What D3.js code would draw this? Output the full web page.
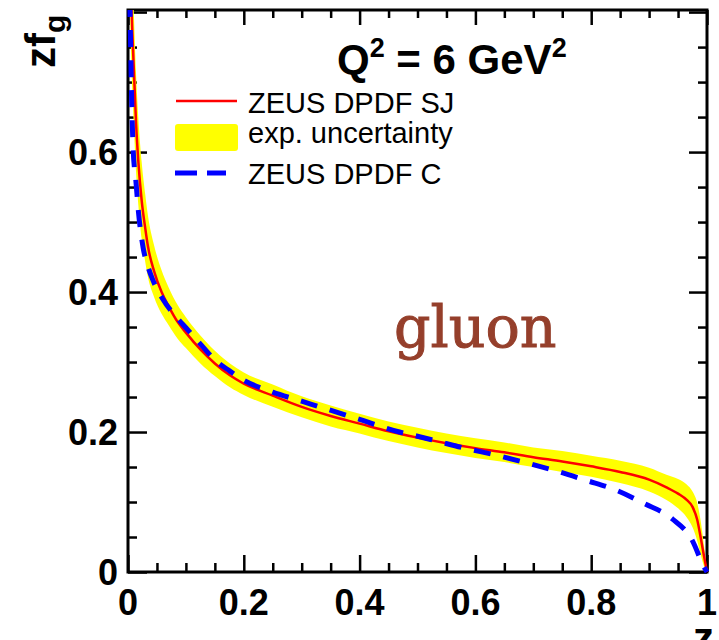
<!DOCTYPE html>
<html>
<head>
<meta charset="utf-8">
<script src="https://cdn.jsdelivr.net/npm/d3@7"></script>
<style>
  html, body { margin: 0; padding: 0; background: #fff; }
  svg { display: block; }
</style>
</head>
<body>
<svg id="chart" width="719" height="640"></svg>
<script>
// Gluon momentum distribution z·f_g(z) at Q² = 6 GeV²

// SJ fit: z grid, central value and experimental uncertainty band
const zSJ = [0.004, 0.006, 0.01, 0.014, 0.018, 0.0236, 0.03, 0.0345, 0.045, 0.058, 0.07, 0.086, 0.1, 0.125, 0.15, 0.176,
  0.2, 0.25, 0.3, 0.35, 0.4, 0.45, 0.5, 0.55, 0.6, 0.65, 0.7, 0.75, 0.8, 0.85, 0.9, 0.93, 0.95,
  0.965, 0.975, 0.983, 0.99, 0.995, 1.0];
const fitSJ = [0.88, 0.81, 0.72, 0.64, 0.585, 0.531, 0.49, 0.465, 0.43, 0.40, 0.38, 0.357, 0.342, 0.318, 0.298, 0.281,
  0.269, 0.252, 0.236, 0.223, 0.212, 0.201, 0.192, 0.184, 0.177, 0.171, 0.164, 0.158, 0.151, 0.143, 0.132, 0.121, 0.112,
  0.103, 0.093, 0.075, 0.045, 0.022, 0.0];
const lowSJ = [0.78, 0.72, 0.64, 0.57, 0.523, 0.476, 0.442, 0.421, 0.393, 0.369, 0.353, 0.333, 0.320, 0.298, 0.280, 0.264,
  0.253, 0.236, 0.221, 0.208, 0.198, 0.187, 0.178, 0.170, 0.163, 0.157, 0.150, 0.143, 0.136, 0.127, 0.115, 0.103, 0.091,
  0.078, 0.064, 0.045, 0.022, 0.008, 0.0];
const highSJ = [0.98, 0.90, 0.80, 0.71, 0.647, 0.586, 0.538, 0.509, 0.467, 0.431, 0.407, 0.381, 0.364, 0.338, 0.316, 0.298,
  0.285, 0.268, 0.251, 0.238, 0.226, 0.215, 0.206, 0.198, 0.191, 0.185, 0.178, 0.173, 0.166, 0.159, 0.149, 0.139, 0.133,
  0.125, 0.115, 0.099, 0.068, 0.036, 0.0];

// C fit: z grid and central value
const zC = [0.002, 0.0034, 0.0064, 0.0086, 0.014, 0.018, 0.026, 0.035, 0.043, 0.06, 0.086, 0.1, 0.129, 0.15,
  0.176, 0.2, 0.25, 0.3, 0.331, 0.4, 0.469, 0.5, 0.529, 0.581, 0.636, 0.688, 0.741, 0.791, 0.843,
  0.891, 0.94, 0.974, 0.995, 1.0];
const fitC = [0.86, 0.803, 0.674, 0.61, 0.555, 0.515, 0.464, 0.435, 0.417, 0.39, 0.362, 0.349, 0.322, 0.303,
  0.287, 0.274, 0.257, 0.244, 0.236, 0.218, 0.2, 0.194, 0.188, 0.177, 0.167, 0.156, 0.144, 0.131, 0.117,
  0.098, 0.076, 0.046, 0.007, 0.0];

const xTickValues = [0, 0.2, 0.4, 0.6, 0.8, 1];
const xTickLabels = ["0", "0.2", "0.4", "0.6", "0.8", "1"];
const yTickValues = [0, 0.2, 0.4, 0.6];
const yTickLabels = ["0", "0.2", "0.4", "0.6"];
const legendLabels = ["ZEUS DPDF SJ", "exp. uncertainty", "ZEUS DPDF C"];
const titleText = { main: "Q", sup1: "2", mid: " = 6 GeV", sup2: "2" };
const partonLabel = "gluon";

const frame = { left: 128, right: 707, top: 10, bottom: 572 };
const svg = d3.select("#chart");

const x = d3.scaleLinear().domain([0, 1]).range([frame.left, frame.right]);
const y = d3.scaleLinear().domain([0, 0.803]).range([frame.bottom, frame.top]);

const bold = "'Liberation Sans', Arial, Helvetica, sans-serif";

// clip region for the curves
svg.append("defs").append("clipPath").attr("id", "plotClip")
  .append("rect")
  .attr("x", frame.left - 8).attr("y", frame.top)
  .attr("width", frame.right - frame.left + 16).attr("height", frame.bottom - frame.top + 8);

// frame with inward ticks on all four sides
const axisG = svg.append("g");
const minorX = d3.range(0, 1.0001, 0.05);
const minorY = d3.range(0, 0.8001, 0.05);
function isMajor(v) { return Math.abs(v / 0.2 - Math.round(v / 0.2)) < 1e-6; }

axisG.append("g").attr("transform", `translate(0,${frame.bottom})`)
  .call(d3.axisBottom(x).tickValues(minorX).tickSize(0).tickFormat(""))
  .call(g => g.select(".domain").remove())
  .call(g => g.selectAll(".tick line").attr("y2", d => isMajor(d) ? -17 : -9));
axisG.append("g").attr("transform", `translate(0,${frame.top})`)
  .call(d3.axisTop(x).tickValues(minorX).tickSize(0).tickFormat(""))
  .call(g => g.select(".domain").remove())
  .call(g => g.selectAll(".tick line").attr("y2", d => isMajor(d) ? 15 : 8));
axisG.append("g").attr("transform", `translate(${frame.left},0)`)
  .call(d3.axisLeft(y).tickValues(minorY).tickSize(0).tickFormat(""))
  .call(g => g.select(".domain").remove())
  .call(g => g.selectAll(".tick line").attr("x2", d => isMajor(d) ? 19 : 9));
axisG.append("g").attr("transform", `translate(${frame.right},0)`)
  .call(d3.axisRight(y).tickValues(minorY).tickSize(0).tickFormat(""))
  .call(g => g.select(".domain").remove())
  .call(g => g.selectAll(".tick line").attr("x2", d => isMajor(d) ? -18 : -9));
axisG.selectAll(".tick line").attr("stroke", "#000").attr("stroke-width", 2.5);

axisG.append("rect")
  .attr("x", frame.left).attr("y", frame.top)
  .attr("width", frame.right - frame.left).attr("height", frame.bottom - frame.top)
  .attr("fill", "none").attr("stroke", "#000").attr("stroke-width", 3);

// tick labels
svg.append("g").selectAll("text").data(xTickValues).join("text")
  .attr("x", d => x(d)).attr("y", 615)
  .attr("text-anchor", "middle")
  .attr("font-family", bold).attr("font-weight", "bold").attr("font-size", 36)
  .text((d, i) => xTickLabels[i]);
svg.append("g").selectAll("text").data(yTickValues).join("text")
  .attr("x", 118).attr("y", d => y(d) + 13)
  .attr("text-anchor", "end")
  .attr("font-family", bold).attr("font-weight", "bold").attr("font-size", 36)
  .text((d, i) => yTickLabels[i]);

// axis titles
const yTitle = svg.append("text")
  .attr("transform", "translate(55,68) rotate(-90)")
  .attr("font-family", bold).attr("font-weight", "bold").attr("font-size", 42);
yTitle.append("tspan").text("zf");
yTitle.append("tspan").attr("font-size", 30).attr("dy", 10).text("g");

svg.append("text")
  .attr("x", 714).attr("y", 652).attr("text-anchor", "end")
  .attr("font-family", bold).attr("font-weight", "bold").attr("font-size", 42)
  .text("z");

// curves
const plot = svg.append("g").attr("clip-path", "url(#plotClip)");

const bandData = zSJ.map((z, i) => ({ z, lo: lowSJ[i], hi: highSJ[i] }));
plot.append("path")
  .datum(bandData)
  .attr("fill", "#ffff00")
  .attr("d", d3.area().curve(d3.curveMonotoneX)
    .x(d => x(d.z)).y0(d => y(d.lo)).y1(d => y(d.hi)));

plot.append("path")
  .datum(zSJ.map((z, i) => ({ z, v: fitSJ[i] })))
  .attr("fill", "none").attr("stroke", "#ff0000").attr("stroke-width", 2.5)
  .attr("d", d3.line().curve(d3.curveMonotoneX).x(d => x(d.z)).y(d => y(d.v)));

plot.append("path")
  .datum(zC.map((z, i) => ({ z, v: fitC[i] })))
  .attr("fill", "none").attr("stroke", "#0000ff").attr("stroke-width", 5)
  .attr("stroke-dasharray", "17,13")
  .attr("d", d3.line().curve(d3.curveMonotoneX).x(d => x(d.z)).y(d => y(d.v)));

// title
const title = svg.append("text")
  .attr("x", 337).attr("y", 74)
  .attr("font-family", bold).attr("font-weight", "bold").attr("font-size", 42);
title.append("tspan").text(titleText.main);
title.append("tspan").attr("font-size", 27).attr("dy", -17).text(titleText.sup1);
title.append("tspan").attr("dy", 17).text(titleText.mid);
title.append("tspan").attr("font-size", 27).attr("dy", -17).text(titleText.sup2);

// legend
const leg = svg.append("g");
leg.append("line").attr("x1", 176).attr("x2", 237).attr("y1", 101).attr("y2", 101)
  .attr("stroke", "#ff0000").attr("stroke-width", 2.5);
leg.append("rect").attr("x", 175).attr("y", 124).attr("width", 63).attr("height", 27)
  .attr("rx", 3).attr("fill", "#ffff00");
leg.append("line").attr("x1", 175).attr("x2", 226).attr("y1", 173).attr("y2", 173)
  .attr("stroke", "#0000ff").attr("stroke-width", 5).attr("stroke-dasharray", "22,10");
leg.selectAll("text.lab").data(legendLabels).join("text")
  .attr("class", "lab")
  .attr("x", 248).attr("y", (d, i) => [113, 143, 184][i])
  .attr("font-family", bold).attr("font-size", 29)
  .text(d => d);

// parton label
svg.append("text")
  .attr("x", 394).attr("y", 347)
  .attr("font-family", "'DejaVu Serif', 'Liberation Serif', serif")
  .attr("font-size", 57).attr("fill", "#953f2b")
  .attr("stroke", "#953f2b").attr("stroke-width", 1)
  .text(partonLabel);
</script>
</body>
</html>
